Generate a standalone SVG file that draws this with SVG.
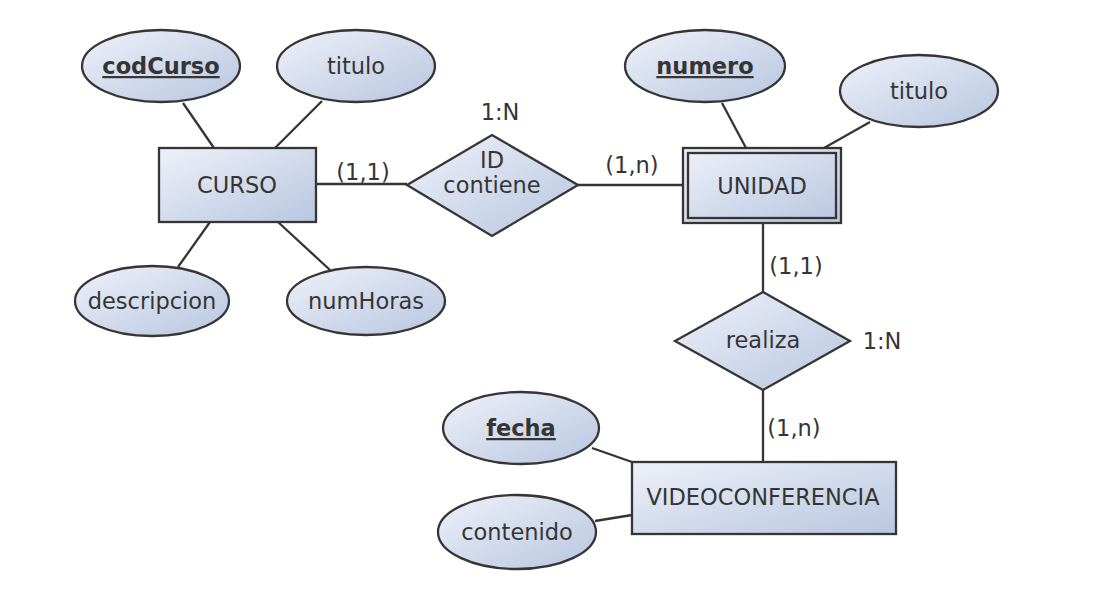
<svg xmlns="http://www.w3.org/2000/svg" width="1093" height="606" viewBox="0 0 1093 606">
<defs>
<linearGradient id="g" x1="0" y1="0" x2="1" y2="1">
<stop offset="0" stop-color="#eef1f9"/>
<stop offset="1" stop-color="#b8c6e0"/>
</linearGradient>
<style>
.s{fill:url(#g);stroke:#353535;stroke-width:2.3}
.n{fill:none;stroke:#353535;stroke-width:2.3}
.t{font-family:"DejaVu Sans",sans-serif;font-size:22.5px;fill:#353535;text-anchor:middle}
.k{font-weight:bold;text-decoration:underline}
.c{stroke:#353535;stroke-width:2.3;fill:none}
</style>
</defs>
<rect width="1093" height="606" fill="#ffffff"/>
<g id="connectors">
<line class="c" x1="183" y1="103" x2="214" y2="148"/>
<line class="c" x1="322" y1="101" x2="275" y2="148"/>
<line class="c" x1="178" y1="267" x2="210" y2="222"/>
<line class="c" x1="330" y1="270" x2="278" y2="222"/>
<line class="c" x1="316" y1="184" x2="407" y2="184"/>
<line class="c" x1="578" y1="185" x2="683" y2="185"/>
<line class="c" x1="722" y1="103" x2="746" y2="148"/>
<line class="c" x1="870" y1="122" x2="824" y2="148"/>
<line class="c" x1="763" y1="223" x2="763" y2="292"/>
<line class="c" x1="763" y1="390" x2="763" y2="462"/>
<line class="c" x1="592" y1="448" x2="632" y2="462"/>
<line class="c" x1="595" y1="521" x2="632" y2="515"/>
<text class="t" x="363" y="180">(1,1)</text>
<text class="t" x="632" y="173">(1,n)</text>
<text class="t" x="796" y="274">(1,1)</text>
<text class="t" x="794" y="436">(1,n)</text>
</g>
<g id="codCurso"><ellipse class="s" cx="161" cy="66" rx="79" ry="36"/><text class="t k" x="161" y="74">codCurso</text></g>
<g id="titulo1"><ellipse class="s" cx="356" cy="66" rx="79" ry="36"/><text class="t" x="356" y="74">titulo</text></g>
<g id="curso"><rect class="s" x="159" y="148" width="157" height="74"/><text class="t" x="237" y="193">CURSO</text></g>
<g id="descripcion"><ellipse class="s" cx="152" cy="301" rx="77" ry="35"/><text class="t" x="152" y="309">descripcion</text></g>
<g id="numHoras"><ellipse class="s" cx="366" cy="301" rx="79" ry="34"/><text class="t" x="366" y="309">numHoras</text></g>
<g id="contiene"><polygon class="s" points="492,135 578,185 492,236 407,185"/><text class="t" x="492" y="168">ID</text><text class="t" x="492" y="193">contiene</text><text class="t" x="500" y="120">1:N</text></g>
<g id="numero"><ellipse class="s" cx="705" cy="66" rx="80" ry="36"/><text class="t k" x="705" y="74">numero</text></g>
<g id="titulo2"><ellipse class="s" cx="919" cy="91" rx="79" ry="36"/><text class="t" x="919" y="99">titulo</text></g>
<g id="unidad"><rect class="s" x="683" y="148" width="158" height="75"/><rect class="n" x="688" y="153" width="148" height="65"/><text class="t" x="762" y="194">UNIDAD</text></g>
<g id="realiza"><polygon class="s" points="763,292 850,341 763,390 675,341"/><text class="t" x="763" y="348">realiza</text><text class="t" x="882" y="349">1:N</text></g>
<g id="videoconferencia"><rect class="s" x="632" y="462" width="264" height="72"/><text class="t" x="763" y="505">VIDEOCONFERENCIA</text></g>
<g id="fecha"><ellipse class="s" cx="521" cy="428" rx="78" ry="36"/><text class="t k" x="521" y="436">fecha</text></g>
<g id="contenido"><ellipse class="s" cx="517" cy="532" rx="79" ry="37"/><text class="t" x="517" y="540">contenido</text></g>
</svg>
